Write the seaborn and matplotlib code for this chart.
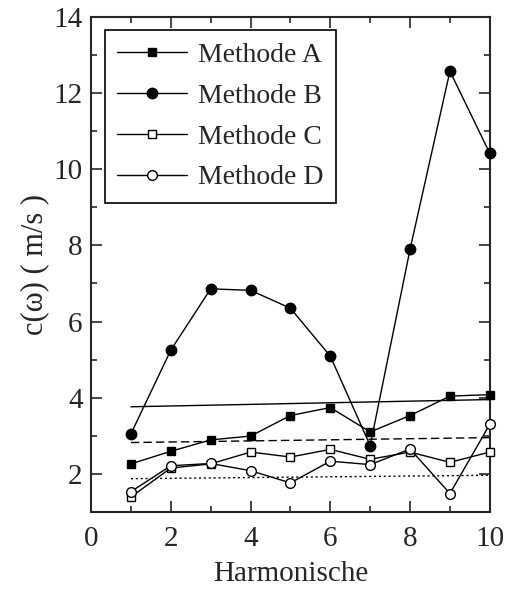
import numpy as np
import pandas as pd
import matplotlib
matplotlib.use("Agg")
import matplotlib.pyplot as plt
import seaborn as sns
from matplotlib.ticker import MultipleLocator

harmonics = [1, 2, 3, 4, 5, 6, 7, 8, 9, 10]
methode_a = [2.26, 2.59, 2.89, 2.99, 3.53, 3.74, 3.10, 3.53, 4.04, 4.08]
methode_b = [3.05, 5.25, 6.86, 6.82, 6.35, 5.09, 2.74, 7.90, 12.58, 10.42]
methode_c = [1.39, 2.15, 2.26, 2.57, 2.44, 2.64, 2.38, 2.57, 2.30, 2.57]
methode_d = [1.53, 2.21, 2.27, 2.08, 1.76, 2.33, 2.24, 2.65, 1.48, 3.30]

fit_x = [1, 10]
fit_solid = [3.76, 3.95]
fit_dashed = [2.82, 2.95]
fit_dotted = [1.87, 1.96]

sns.set_style("ticks")
plt.rcParams['font.family'] = ['Liberation Serif', 'DejaVu Serif']

fig = plt.figure(figsize=(5.06, 5.91), dpi=100)
ax = fig.add_axes([0.18, 0.134, 0.788, 0.837])

series = [
    ("Methode A", methode_a, "s", "black", 6),
    ("Methode B", methode_b, "o", "black", 7.5),
    ("Methode C", methode_c, "s", "white", 6),
    ("Methode D", methode_d, "o", "white", 7),
]
for name, vals, mk, fc, ms in series:
    df = pd.DataFrame({"h": harmonics, "c": vals})
    sns.lineplot(data=df, x="h", y="c", ax=ax, color="black", lw=1.0,
                 marker=mk, markersize=ms, markerfacecolor=fc,
                 markeredgecolor="black", markeredgewidth=1.0, label=name,
                 clip_on=False, zorder=3)

fit_df = pd.DataFrame({"h": fit_x, "s": fit_solid, "d": fit_dashed, "o": fit_dotted})
sns.lineplot(data=fit_df, x="h", y="s", ax=ax, color="black", lw=1.0, linestyle="-")
sns.lineplot(data=fit_df, x="h", y="d", ax=ax, color="black", lw=1.0, linestyle=(0, (6, 3)))
sns.lineplot(data=fit_df, x="h", y="o", ax=ax, color="black", lw=1.0, linestyle=(0, (1.5, 2)))

ax.set_xlim(0, 10)
ax.set_ylim(1, 14)
ax.xaxis.set_major_locator(MultipleLocator(2))
ax.xaxis.set_minor_locator(MultipleLocator(1))
ax.yaxis.set_major_locator(MultipleLocator(2))
ax.yaxis.set_minor_locator(MultipleLocator(1))
ax.tick_params(which="both", direction="in", top=True, right=True, labelsize=21, width=1.2)
ax.tick_params(which="major", length=8)
ax.tick_params(which="minor", length=4)
ax.tick_params(axis="x", which="major", pad=10)
ax.tick_params(axis="y", which="major", pad=6)
for sp in ax.spines.values():
    sp.set_linewidth(1.5)

ax.set_xlabel("Harmonische", fontsize=21, labelpad=7)
ax.set_ylabel("c(ω) ( m/s )", fontsize=22, labelpad=3)

leg = ax.legend(loc="upper left", bbox_to_anchor=(0.02, 0.985), fontsize=20,
                frameon=True, fancybox=False, edgecolor="black", framealpha=1,
                handlelength=2.5, handletextpad=0.4, borderpad=0.45, labelspacing=0.55,
                borderaxespad=0.2)
leg.get_frame().set_linewidth(1.2)

fig.savefig("out.png", dpi=100)
